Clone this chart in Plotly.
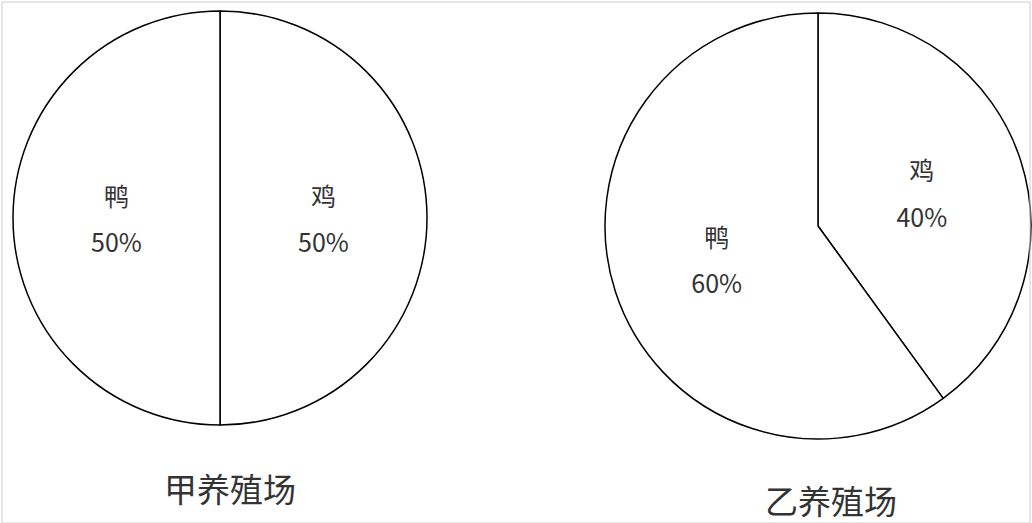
import plotly.graph_objects as go

# 数据
farms = ["甲养殖场", "乙养殖场"]
labels = ["鸡", "鸭"]
farm_a = [50, 50]
farm_b = [40, 60]

W, H = 1032, 523
FONT = "Noto Sans CJK SC"


def box(cx, cy, r):
    """像素中心/半径 -> paper 坐标 domain"""
    return dict(
        x=[(cx - r) / W, (cx + r) / W],
        y=[1 - (cy + r) / H, 1 - (cy - r) / H],
    )


fig = go.Figure()

for values, dom in zip([farm_a, farm_b], [box(220, 218, 207), box(818, 226, 213)]):
    fig.add_trace(
        go.Pie(
            labels=labels,
            values=values,
            domain=dom,
            sort=False,
            direction="clockwise",
            rotation=0,
            marker=dict(colors=["white", "white"], line=dict(color="black", width=1.5)),
            # 基础字号决定行距, span 决定字大小
            texttemplate="<span style='font-size:25px'>%{label}</span><br> <br>"
            "<span style='font-size:25px'>%{percent:.0%}</span>",
            textposition="inside",
            insidetextorientation="horizontal",
            textfont=dict(family=FONT, size=18, color="#333333"),
            hoverinfo="label+percent",
            showlegend=False,
        )
    )

# 标题
for name, (x, y) in zip(farms, [(230, 488), (831, 500)]):
    fig.add_annotation(
        text=name,
        x=x / W,
        y=1 - y / H,
        xref="paper",
        yref="paper",
        xanchor="center",
        yanchor="middle",
        showarrow=False,
        font=dict(family=FONT, size=33, color="#333333"),
    )

# 外框
fig.add_shape(
    type="rect",
    xref="paper",
    yref="paper",
    x0=2 / W,
    x1=1 - 2 / W,
    y0=0,
    y1=1 - 2 / H,
    line=dict(color="#cccccc", width=1),
)

fig.update_layout(
    width=W,
    height=H,
    margin=dict(l=0, r=0, t=0, b=0),
    paper_bgcolor="white",
    plot_bgcolor="white",
)

fig.write_html(
    "out.html",
    config={"displayModeBar": False},
    post_script="document.body.style.margin='0';",
)
